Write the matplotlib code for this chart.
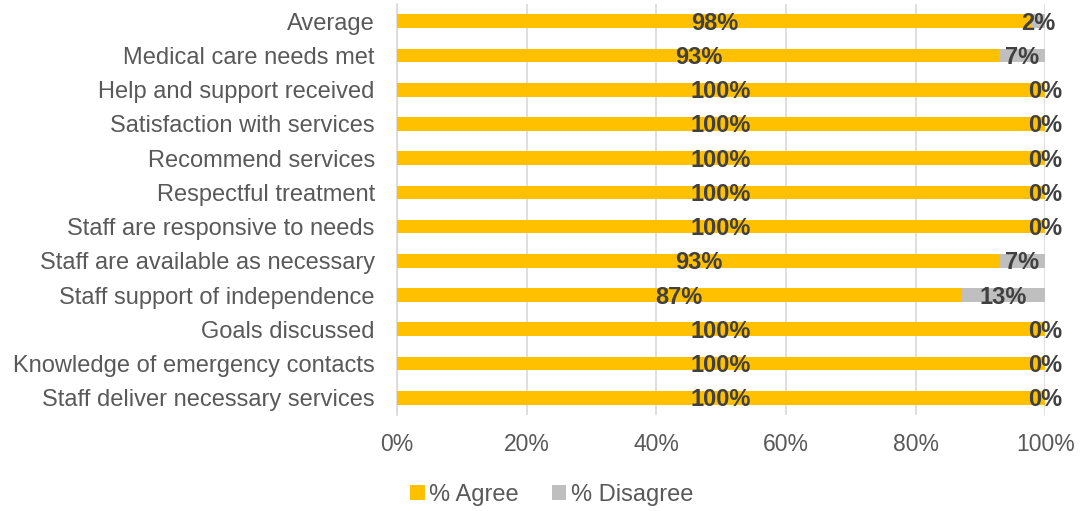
import numpy as np
import matplotlib.pyplot as plt

plt.rcParams['font.family'] = ['Liberation Sans', 'DejaVu Sans']

categories = ["Average", "Medical care needs met", "Help and support received",
              "Satisfaction with services", "Recommend services", "Respectful treatment",
              "Staff are responsive to needs", "Staff are available as necessary",
              "Staff support of independence", "Goals discussed",
              "Knowledge of emergency contacts", "Staff deliver necessary services"]
agree = [98, 93, 100, 100, 100, 100, 100, 93, 87, 100, 100, 100]
disagree = [2, 7, 0, 0, 0, 0, 0, 7, 13, 0, 0, 0]

fig = plt.figure(figsize=(10.82, 5.11), dpi=100)
ax = fig.add_axes([0.367, 0.188, 0.599, 0.804])

y = np.arange(len(categories))
ax.barh(y, agree, height=0.4, color="#FFC000", label="% Agree", zorder=3)
ax.barh(y, disagree, left=agree, height=0.4, color="#BFBFBF", label="% Disagree", zorder=3)

for i in range(len(categories)):
    ax.text(agree[i] / 2, y[i] + 0.06, f"{agree[i]}%", ha="center", va="center",
            fontsize=17, fontweight="bold", color="#404040", zorder=4)
    ax.text(agree[i] + disagree[i] / 2, y[i] + 0.06, f"{disagree[i]}%", ha="center", va="center",
            fontsize=17, fontweight="bold", color="#404040", zorder=4)

ax.set_xlim(0, 100)
ax.set_ylim(len(categories) - 0.5, -0.5)
ax.set_yticks(y)
ax.set_yticklabels(categories, fontsize=17, color="#595959")
ax.set_xticks(np.arange(0, 101, 20))
ax.set_xticklabels([f"{v}%" for v in range(0, 101, 20)], fontsize=16.5, color="#595959")
ax.tick_params(length=0)
ax.tick_params(axis="y", pad=16)
ax.tick_params(axis="x", pad=13)
ax.grid(axis="x", color="#D9D9D9", linewidth=1.2, zorder=0)
for s in ["top", "right", "bottom"]:
    ax.spines[s].set_visible(False)
ax.spines["left"].set_color("#D9D9D9")
ax.spines["left"].set_linewidth(1.2)

fig.legend(loc="center", bbox_to_anchor=(0.51, 0.031), ncol=2, frameon=False,
           fontsize=17, labelcolor="#595959", handlelength=0.6, handleheight=0.6,
           handletextpad=0.2, columnspacing=1.4)

fig.savefig("out.png", dpi=100)
